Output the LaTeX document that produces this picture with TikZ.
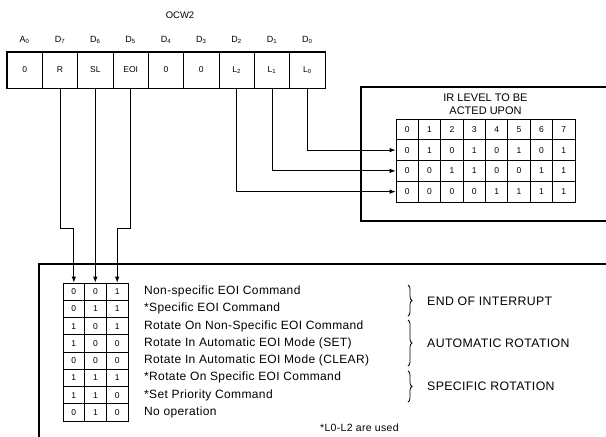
\documentclass[tikz,border=0pt]{standalone}
\usepackage{fontspec}
\setmainfont{Liberation Sans}
\newfontfamily\descfont[LetterSpace=3]{Liberation Sans}
\usetikzlibrary{arrows.meta,decorations.pathreplacing,calc}
\begin{document}
\begin{tikzpicture}[x=1pt,y=-1pt,
  regcell/.style={draw,line width=0.7pt,minimum width=35.33pt,minimum height=36pt,inner sep=0pt,font=\fontsize{8.5}{9}\selectfont},
  collbl/.style={inner sep=0pt,font=\fontsize{9}{10}\selectfont},
  ircell/.style={draw,line width=0.8pt,minimum width=22.375pt,minimum height=20.75pt,inner sep=0pt,font=\fontsize{8.5}{9}\selectfont},
  smcell/.style={draw,line width=0.8pt,minimum width=21.67pt,minimum height=17.25pt,inner sep=0pt,font=\fontsize{8.5}{9}\selectfont},
  desc/.style={anchor=west,inner sep=0pt,font=\descfont\fontsize{12}{13}\selectfont},
  grplbl/.style={anchor=west,inner sep=0pt,font=\descfont\fontsize{12.3}{13}\selectfont},
  conn/.style={line width=0.8pt},
  arr/.style={line width=0.8pt,-{Latex[length=6pt,width=4.5pt]}},
  frame/.style={line width=1.5pt},
  brc/.style={line width=0.8pt,decorate,decoration={brace,amplitude=4pt}}
]
\clip (0,0) rectangle (606,437);
\fill[white] (0,0) rectangle (606,437);

% title
\node[inner sep=0pt,font=\fontsize{9.5}{10}\selectfont] (ocw) at (180,15) {OCW2};

% register
\foreach \nm/\txt/\lb [count=\i from 0] in {A0/0/A\textsubscript{0},R/R/D\textsubscript{7},SL/SL/D\textsubscript{6},EOI/EOI/D\textsubscript{5},Dfour/0/D\textsubscript{4},Dthree/0/D\textsubscript{3},L2/L\textsubscript{2}/D\textsubscript{2},L1/L\textsubscript{1}/D\textsubscript{1},L0/L\textsubscript{0}/D\textsubscript{0}}{
  \node[regcell] (\nm) at ({7+35.33*(\i+0.5)},70) {\txt};
  \node[collbl] (lbl\nm) at ({7+35.33*(\i+0.5)},40) {\lb};
}
\draw[frame] (A0.north west) rectangle (L0.south east);

% IR box
\draw[frame] (640,87) -- (361,87) -- (361,221) -- (640,221);
\node[inner sep=0pt,align=center,font=\fontsize{11}{13}\selectfont] (irt) at (485.5,104.5) {IR LEVEL TO BE\\ACTED UPON};
\foreach \row [count=\r from 0] in {{0,1,2,3,4,5,6,7},{0,1,0,1,0,1,0,1},{0,0,1,1,0,0,1,1},{0,0,0,0,1,1,1,1}}{
  \foreach \v [count=\c from 0] in \row {
    \node[ircell] (ir-\r-\c) at ({396+22.375*(\c+0.5)},{119+20.75*(\r+0.5)}) {\v};
  }
}

% bottom box
\draw[frame] (39,470) -- (39,264) -- (640,264);
\foreach \row [count=\r from 1] in {{0,0,1},{0,1,1},{1,0,1},{1,0,0},{0,0,0},{1,1,1},{1,1,0},{0,1,0}}{
  \foreach \v [count=\c from 1] in \row {
    \node[smcell] (s-\r-\c) at ({63+21.67*(\c-0.5)},{283+17.25*(\r-0.5)}) {\v};
  }
}
\foreach \t [count=\r from 1] in {Non-specific EOI Command,{*Specific EOI Command},Rotate On Non-Specific EOI Command,Rotate In Automatic EOI Mode (SET),Rotate In Automatic EOI Mode (CLEAR),{*Rotate On Specific EOI Command},{*Set Priority Command},No operation}{
  \node[desc] (d-\r) at (144,{283+17.25*(\r-0.5)}) {\t};
}
\node[desc,font=\descfont\fontsize{10.5}{12}\selectfont] (fn) at (320,428) {*L0-L2 are used};

% braces and group labels
\draw[brc] (408,285) -- (408,316);
\draw[brc] (408,320) -- (408,366);
\draw[brc] (408,371) -- (408,402);
\node[grplbl] (g1) at (427,301) {END OF INTERRUPT};
\node[grplbl] (g2) at (427,343) {AUTOMATIC ROTATION};
\node[grplbl] (g3) at (427,386) {SPECIFIC ROTATION};

% connectors
\coordinate (bend) at (0,228);
\draw[arr] (R.south) -- (R.south |- bend) -| (s-1-1.north);
\draw[arr] (SL.south) -- (SL.south |- s-1-2.north);
\draw[arr] (EOI.south) -- (EOI.south |- bend) -| (s-1-3.north);
\draw[arr] (L0.south) |- (ir-1-0.west);
\draw[arr] (L1.south) |- (ir-2-0.west);
\draw[arr] (L2.south) |- (ir-3-0.west);
\end{tikzpicture}
\end{document}
